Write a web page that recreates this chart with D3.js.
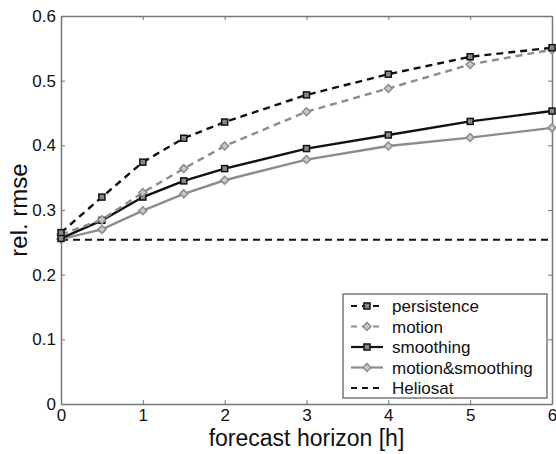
<!DOCTYPE html>
<meta charset='utf-8'>
<style>
	body { margin: 0; background: #fff; }
	text { font-family: 'Liberation Sans', Arial, sans-serif; fill: #111; }
	.axis path, .axis line { stroke: #777; }
</style>
<body>
<script src='https://cdn.jsdelivr.net/npm/d3@7'></script>
<script type='text/javascript'>
	var horizon = [0, 0.5, 1, 1.5, 2, 3, 4, 5, 6];
	var persistence = [0.265, 0.320, 0.374, 0.411, 0.436, 0.478, 0.510, 0.537, 0.551];
	var motion = [0.262, 0.285, 0.327, 0.364, 0.399, 0.452, 0.488, 0.525, 0.548];
	var smoothing = [0.256, 0.284, 0.320, 0.345, 0.364, 0.395, 0.416, 0.437, 0.453];
	var motionSmoothing = [0.255, 0.270, 0.299, 0.325, 0.346, 0.378, 0.399, 0.412, 0.427];
	var heliosat = 0.254;
	var xTicks = [0, 1, 2, 3, 4, 5, 6];
	var yTicks = [0, 0.1, 0.2, 0.3, 0.4, 0.5, 0.6];

	var W = 556, H = 454;
	var m = {l: 61, r: 4, t: 16, b: 50};
	var svg = d3.select('body').append('svg').attr('width', W).attr('height', H);

	var x = d3.scaleLinear().domain([0, 6]).range([m.l, W - m.r]);
	var y = d3.scaleLinear().domain([0, 0.6]).range([H - m.b, m.t]);

	// frame + inward ticks
	svg.append('g').attr('class', 'axis').attr('transform', 'translate(0,' + (H - m.b) + ')')
		.call(d3.axisBottom(x).tickValues(xTicks).tickFormat(d3.format('d')).tickSizeInner(-4).tickSizeOuter(0).tickPadding(5))
		.call(function (g) { g.selectAll('text').attr('font-size', 17).attr('fill', '#111'); });
	svg.append('g').attr('class', 'axis').attr('transform', 'translate(0,' + m.t + ')')
		.call(d3.axisTop(x).tickValues(xTicks).tickFormat('').tickSizeInner(-4).tickSizeOuter(0));
	svg.append('g').attr('class', 'axis').attr('transform', 'translate(' + m.l + ',0)')
		.call(d3.axisLeft(y).tickValues(yTicks).tickFormat(function (d) { return d === 0 ? '0' : d3.format('.1f')(d); })
			.tickSizeInner(-4).tickSizeOuter(0).tickPadding(5))
		.call(function (g) { g.selectAll('text').attr('font-size', 17).attr('fill', '#111'); });
	svg.append('g').attr('class', 'axis').attr('transform', 'translate(' + x(6) + ',0)')
		.call(d3.axisRight(y).tickValues(yTicks).tickFormat('').tickSizeInner(-4).tickSizeOuter(0));
	svg.selectAll('.axis path').attr('stroke-width', 1.5);

	// axis labels
	svg.append('text').attr('x', (x(0) + x(6)) / 2).attr('y', 446).attr('text-anchor', 'middle')
		.attr('font-size', 23).text('forecast horizon [h]');
	svg.append('text').attr('transform', 'translate(27,' + y(0.3) + ') rotate(-90)').attr('text-anchor', 'middle')
		.attr('font-size', 24).text('rel. rmse');

	var series = [
		{name: 'persistence', v: persistence, color: '#111', dash: '7,5', marker: 'square'},
		{name: 'motion', v: motion, color: '#8c8c8c', dash: '7,5', marker: 'diamond'},
		{name: 'smoothing', v: smoothing, color: '#111', dash: null, marker: 'square'},
		{name: 'motion&smoothing', v: motionSmoothing, color: '#8c8c8c', dash: null, marker: 'diamond'}
	];

	var line = d3.line().x(function (d, i) { return x(horizon[i]); }).y(function (d) { return y(d); });

	svg.append('line').attr('x1', x(0)).attr('x2', x(6)).attr('y1', y(heliosat)).attr('y2', y(heliosat))
		.attr('stroke', '#111').attr('stroke-width', 2).attr('stroke-dasharray', '7,5');

	function drawMarker(g, type, color, cx, cy) {
		if (type === 'square') {
			g.append('rect').attr('x', cx - 3).attr('y', cy - 3).attr('width', 6).attr('height', 6)
				.attr('fill', '#888').attr('stroke', color).attr('stroke-width', 1.5);
		} else {
			g.append('path').attr('d', d3.symbol(d3.symbolDiamond2, 40)())
				.attr('transform', 'translate(' + cx + ',' + cy + ')')
				.attr('fill', '#c8c8c8').attr('stroke', color).attr('stroke-width', 1.5);
		}
	}

	series.slice().reverse().forEach(function (s) {
		svg.append('path').datum(s.v).attr('d', line).attr('fill', 'none')
			.attr('stroke', s.color).attr('stroke-width', 2.4).attr('stroke-dasharray', s.dash);
		var g = svg.append('g');
		s.v.forEach(function (d, i) { drawMarker(g, s.marker, s.color, x(horizon[i]), y(d)); });
	});

	// legend
	var lg = svg.append('g');
	lg.append('rect').attr('x', 343).attr('y', 294).attr('width', 204).attr('height', 104)
		.attr('fill', '#fff').attr('stroke', '#555').attr('stroke-width', 1.2);
	var entries = series.concat([{name: 'Heliosat', color: '#111', dash: '7,5', marker: null}]);
	entries.forEach(function (s, i) {
		var yy = 306 + i * 20.5;
		lg.append('line').attr('x1', 351).attr('x2', 383).attr('y1', yy).attr('y2', yy)
			.attr('stroke', s.color).attr('stroke-width', 2.2).attr('stroke-dasharray', s.dash ? '6,5' : null);
		if (s.marker) drawMarker(lg, s.marker, s.color, 367, yy);
		lg.append('text').attr('x', 392).attr('y', yy + 6).attr('font-size', 17).text(s.name);
	});
</script>
</body>
